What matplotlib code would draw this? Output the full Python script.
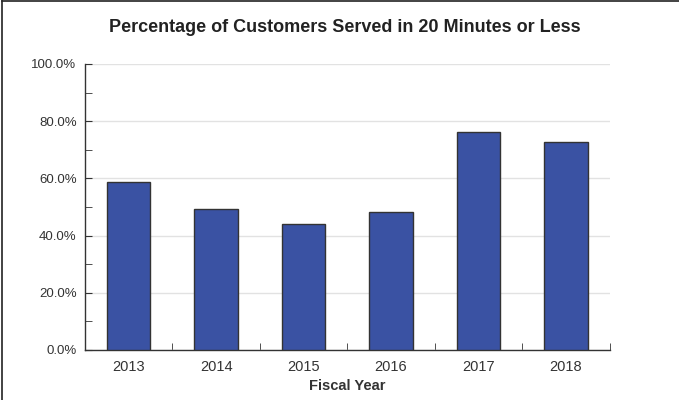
import matplotlib
matplotlib.use("Agg")
from matplotlib import pyplot as plt
from matplotlib.ticker import MultipleLocator, FuncFormatter
from matplotlib.lines import Line2D

plt.rcParams["font.family"] = ["Liberation Sans", "DejaVu Sans"]

years = ["2013", "2014", "2015", "2016", "2017", "2018"]
pct_served = [58.7, 49.2, 44.0, 48.4, 76.3, 72.6]

title = "Percentage of Customers Served in 20 Minutes or Less"
x_label = "Fiscal Year"

bar_color = "#3a52a3"
edge_color = "#333333"
text_color = "#333333"

fig = plt.figure(figsize=(6.79, 4.0), dpi=100)
ax = fig.add_axes([0.125, 0.125, 0.773, 0.715])

x = range(len(years))
ax.bar(x, pct_served, width=0.5, color=bar_color, edgecolor=edge_color,
       linewidth=1.0, zorder=3)

ax.set_xlim(-0.5, len(years) - 0.5)
ax.set_ylim(0, 100)

# y axis
ax.yaxis.set_major_locator(MultipleLocator(20))
ax.yaxis.set_minor_locator(MultipleLocator(10))
ax.yaxis.set_major_formatter(FuncFormatter(lambda v, p: "%.1f%%" % v))
ax.tick_params(axis="y", which="both", direction="in", length=5,
               color=edge_color, labelsize=9.5, labelcolor=text_color, pad=6)
ax.grid(axis="y", which="major", color="#e2e2e2", linewidth=1.0, zorder=0)

# x axis: labels at centres, tick marks at boundaries
ax.set_xticks(list(x))
ax.set_xticklabels(years)
ax.set_xticks([i + 0.5 for i in x], minor=True)
ax.tick_params(axis="x", which="major", length=0, labelsize=10.5,
               labelcolor=text_color, pad=7)
ax.tick_params(axis="x", which="minor", direction="in", length=5,
               color=edge_color)

for side in ["top", "right"]:
    ax.spines[side].set_visible(False)
for side in ["left", "bottom"]:
    ax.spines[side].set_color(edge_color)
    ax.spines[side].set_linewidth(1.0)

ax.set_xlabel(x_label, fontsize=10.5, fontweight="bold", color=text_color,
              labelpad=4)
fig.text(0.508, 0.93, title, ha="center", va="center", fontsize=13,
         fontweight="bold", color="#222222")

# figure border, left and top only
fig.lines.append(Line2D([0.003, 0.003], [0, 0.997], transform=fig.transFigure,
                        color="#222222", linewidth=1.2))
fig.lines.append(Line2D([0.003, 1], [0.997, 0.997], transform=fig.transFigure,
                        color="#222222", linewidth=1.2))

fig.savefig("out.png", dpi=100)
